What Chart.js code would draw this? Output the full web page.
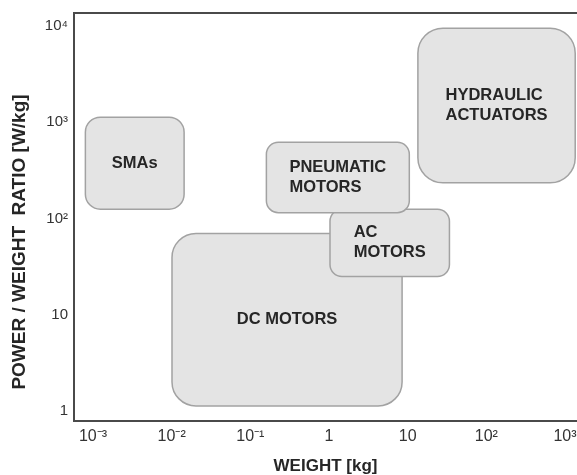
<!DOCTYPE html>
<html>
<head>
<meta charset="utf-8">
<script src="https://cdn.jsdelivr.net/npm/chart.js@4/dist/chart.umd.min.js"></script>
<style>
  html, body { margin: 0; padding: 0; background: #ffffff; overflow: hidden; }
  #wrap { position: relative; width: 577px; height: 475px; }
</style>
</head>
<body>
<div id="wrap"><canvas id="chart"></canvas></div>
<script>
// Actuator families: operating ranges of weight [kg] and power/weight ratio [W/kg]
const regionNames = [["DC MOTORS"], ["AC", "MOTORS"], ["PNEUMATIC", "MOTORS"], ["SMAs"], ["HYDRAULIC", "ACTUATORS"]];
const weightMin = [0.0101, 1.03, 0.16, 0.0008, 13.5];
const weightMax = [8.5, 34, 10.5, 0.0144, 1350];
const ratioMin = [1.13, 25, 115, 125, 235];
const ratioMax = [70, 125, 620, 1130, 9500];

// Decade ticks on both logarithmic axes
const weightTicks = [0.001, 0.01, 0.1, 1, 10, 100, 1000];
const weightTickLabels = ["10\u207B\u00B3", "10\u207B\u00B2", "10\u207B\u00B9", "1", "10", "10\u00B2", "10\u00B3"];
const ratioTicks = [1, 10, 100, 1000, 10000];
const ratioTickLabels = ["1", "10", "10\u00B2", "10\u00B3", "10\u2074"];

// Drawing style for the region boxes
const cornerRadius = [24, 12, 12, 15, 25];
const boxFill = "#e4e4e4";
const boxEdge = "#a2a2a2";
const inkColor = "#262626";
const axisColor = "#4a4a4a";
const fontFamily = "'Liberation Sans', Arial, Helvetica, sans-serif";

function roundedRect(ctx, x, y, w, h, r) {
  r = Math.min(r, w / 2, h / 2);
  ctx.beginPath();
  ctx.moveTo(x + r, y);
  ctx.lineTo(x + w - r, y);
  ctx.arcTo(x + w, y, x + w, y + r, r);
  ctx.lineTo(x + w, y + h - r);
  ctx.arcTo(x + w, y + h, x + w - r, y + h, r);
  ctx.lineTo(x + r, y + h);
  ctx.arcTo(x, y + h, x, y + h - r, r);
  ctx.lineTo(x, y + r);
  ctx.arcTo(x, y, x + r, y, r);
  ctx.closePath();
}

// Draws each actuator region as a rounded box placed through the chart's scales
const regionBoxes = {
  id: "regionBoxes",
  afterDatasetsDraw(chart) {
    const { ctx, scales: { x, y } } = chart;
    ctx.save();
    regionNames.forEach((lines, i) => {
      const x0 = x.getPixelForValue(weightMin[i]);
      const x1 = x.getPixelForValue(weightMax[i]);
      const y0 = y.getPixelForValue(ratioMax[i]);
      const y1 = y.getPixelForValue(ratioMin[i]);
      roundedRect(ctx, x0, y0, x1 - x0, y1 - y0, cornerRadius[i]);
      ctx.fillStyle = boxFill;
      ctx.fill();
      ctx.lineWidth = 1.5;
      ctx.strokeStyle = boxEdge;
      ctx.stroke();

      ctx.font = "bold 16.5px " + fontFamily;
      ctx.fillStyle = inkColor;
      ctx.textAlign = "left";
      ctx.textBaseline = "middle";
      const lh = 20;
      const wMax = Math.max(...lines.map(t => ctx.measureText(t).width));
      const cx = (x0 + x1) / 2;
      const cy = (y0 + y1) / 2;
      lines.forEach((t, k) => {
        ctx.fillText(t, cx - wMax / 2, cy - (lines.length - 1) * lh / 2 + k * lh);
      });
    });
    ctx.restore();
  }
};

// Top frame line and the vertical axis title
const frame = {
  id: "frame",
  afterDraw(chart) {
    const { ctx, chartArea } = chart;
    ctx.save();
    ctx.strokeStyle = axisColor;
    ctx.lineWidth = 2;
    ctx.beginPath();
    ctx.moveTo(chartArea.left - 1, chartArea.top);
    ctx.lineTo(chartArea.right, chartArea.top);
    ctx.stroke();

    ctx.translate(20, 242);
    ctx.rotate(-Math.PI / 2);
    ctx.font = "bold 19px " + fontFamily;
    ctx.fillStyle = inkColor;
    ctx.textAlign = "center";
    ctx.textBaseline = "middle";
    ctx.fillText("POWER / WEIGHT  RATIO [W/kg]", 0, 0);
    ctx.restore();
  }
};

new Chart(document.getElementById("chart"), {
  type: "scatter",
  data: { datasets: [] },
  options: {
    responsive: true,
    maintainAspectRatio: false,
    animation: false,
    layout: { padding: { top: 13, right: 0, bottom: 0, left: 0 } },
    plugins: { legend: { display: false }, tooltip: { enabled: false } },
    scales: {
      x: {
        type: "logarithmic",
        min: Math.pow(10, -3.2415),
        max: Math.pow(10, 3.153),
        grid: { display: false, drawTicks: false },
        border: { display: true, color: axisColor, width: 2 },
        afterBuildTicks: s => { s.ticks = weightTicks.map(v => ({ value: v })); },
        afterFit: s => { s.height = 54; s.paddingLeft = 0; s.paddingRight = 0; },
        ticks: {
          autoSkip: false,
          maxRotation: 0,
          padding: 6,
          color: "#333333",
          font: { family: fontFamily, size: 16 },
          callback: (v, i) => weightTickLabels[i]
        },
        title: {
          display: true,
          text: "WEIGHT [kg]",
          color: inkColor,
          padding: 0,
          font: { family: fontFamily, size: 17, weight: "bold", lineHeight: 1 }
        }
      },
      y: {
        type: "logarithmic",
        min: Math.pow(10, -0.104),
        max: Math.pow(10, 4.135),
        grid: { display: false, drawTicks: false },
        border: { display: true, color: axisColor, width: 2 },
        afterBuildTicks: s => { s.ticks = ratioTicks.map(v => ({ value: v })); },
        afterFit: s => { s.width = 74; s.paddingTop = 0; s.paddingBottom = 0; },
        ticks: {
          autoSkip: false,
          padding: 6,
          color: "#333333",
          font: { family: fontFamily, size: 15 },
          callback: (v, i) => ratioTickLabels[i]
        }
      }
    }
  },
  plugins: [regionBoxes, frame]
});
</script>
</body>
</html>
